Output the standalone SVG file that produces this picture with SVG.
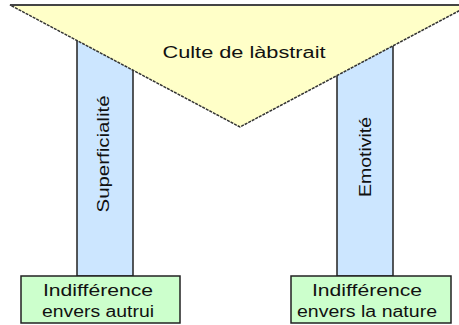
<svg xmlns="http://www.w3.org/2000/svg" width="459" height="325" viewBox="0 0 459 325">
  <style>
    .pillar { fill: #cce6ff; stroke: #222; stroke-width: 1.5; }
    .base { fill: #ccffcc; stroke: #222; stroke-width: 1.5; }
    .funnel { fill: #ffffc8; stroke: #333; stroke-width: 1.5; stroke-dasharray: 3 1; }
    .lbl { font-family: "Liberation Sans", "DejaVu Sans", sans-serif; font-size: 16px; fill: #111; }
  </style>
  <rect width="459" height="325" fill="#ffffff"/>

  <g id="connectors">
    <!-- pillars joining the funnel to the two bases -->
    <g id="pillar-left">
      <rect class="pillar" x="77" y="30" width="56" height="246"/>
      <text class="lbl" transform="translate(109,154) rotate(-90)" text-anchor="middle" textLength="117" lengthAdjust="spacingAndGlyphs">Superficialité</text>
    </g>
    <g id="pillar-right">
      <rect class="pillar" x="337" y="30" width="56" height="246"/>
      <text class="lbl" transform="translate(371,157) rotate(-90)" text-anchor="middle" textLength="80" lengthAdjust="spacingAndGlyphs">Emotivité</text>
    </g>
  </g>

  <g id="funnel">
    <polygon class="funnel" points="10,5 470,5 240,127"/>
    <line x1="10" y1="5" x2="459" y2="5" stroke="#444" stroke-width="2"/>
    <text class="lbl" x="244" y="58" text-anchor="middle" textLength="163" lengthAdjust="spacingAndGlyphs">Culte de làbstrait</text>
  </g>

  <g id="base-left">
    <rect class="base" x="21" y="276" width="159" height="47"/>
    <text class="lbl" x="98" y="296" text-anchor="middle" textLength="110" lengthAdjust="spacingAndGlyphs">Indifférence</text>
    <text class="lbl" x="98" y="317" text-anchor="middle" textLength="112" lengthAdjust="spacingAndGlyphs">envers autrui</text>
  </g>

  <g id="base-right">
    <rect class="base" x="291" y="276" width="160" height="47"/>
    <text class="lbl" x="367" y="296" text-anchor="middle" textLength="110" lengthAdjust="spacingAndGlyphs">Indifférence</text>
    <text class="lbl" x="367" y="317" text-anchor="middle" textLength="140" lengthAdjust="spacingAndGlyphs">envers la nature</text>
  </g>
</svg>
